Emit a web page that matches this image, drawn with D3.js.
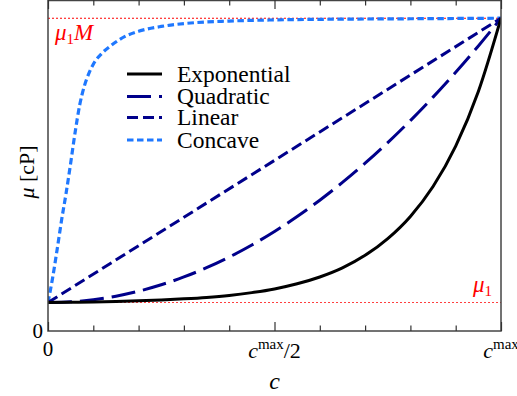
<!DOCTYPE html>
<html><head><meta charset="utf-8">
<script src="https://cdn.jsdelivr.net/npm/d3@7"></script>
<style>body{margin:0;background:#fff}svg{display:block}text{font-family:"Liberation Serif","Times New Roman",serif}</style>
</head><body><svg id="c" width="517" height="396"></svg>
<script>
// Data (mu in units of mu1, c in units of c_max)
const cGrid = [0,0.05,0.1,0.15,0.2,0.25,0.3,0.35,0.4,0.45,0.5,0.55,0.6,0.65,0.7,0.75,0.8,0.85,0.9,0.95,1];
const expVals = [1,1.01,1.02,1.035,1.06,1.09,1.13,1.18,1.25,1.35,1.48,1.66,1.9,2.22,2.66,3.25,4.03,5.08,6.5,8.42,11];
const quadVals = [1,1.025,1.1,1.225,1.4,1.625,1.9,2.225,2.6,3.025,3.5,4.025,4.6,5.225,5.9,6.625,7.4,8.225,9.1,10.025,11];
const linC = [0,1];
const linVals = [1,11];
const concC = [0,0.01,0.02,0.03,0.04,0.05,0.06,0.07,0.08,0.09,0.1,0.12,0.14,0.17,0.2,0.25,0.3,0.4,0.5,0.6,0.8,1];
const concVals = [1,1.85,2.85,3.9,4.85,5.9,7.0,7.95,8.6,9.05,9.38,9.78,10.05,10.36,10.54,10.71,10.81,10.9,10.94,10.96,10.98,11];
const mu1 = 1, mu1M = 11;
const seriesNames = ["Exponential","Quadratic","Linear","Concave"];
const xTicks = [0,0.1,0.2,0.3,0.4,0.5,0.6,0.7,0.8,0.9,1];
const xMajor = [0,0.5,1];

const svg = d3.select("#c");
const L=48,R=501,T=0,B=331;
const x = d3.scaleLinear().domain([0,1]).range([L,R]);
const y = d3.scaleLinear().domain([0,11.64]).range([B,T]);

const series = [
  {name:seriesNames[0], c:cGrid, v:expVals, color:"#000", dash:null, w:3},
  {name:seriesNames[1], c:cGrid, v:quadVals, color:"#00008b", dash:"24,8", w:3},
  {name:seriesNames[2], c:linC, v:linVals, color:"#00008b", dash:"11,5", w:3},
  {name:seriesNames[3], c:concC, v:concVals, color:"#1f78ff", dash:"6.5,3.5", w:3.2}
];

svg.append("clipPath").attr("id","clip").append("rect").attr("x",L).attr("y",T-2).attr("width",R-L).attr("height",B-T+2);

// reference lines
[mu1, mu1M].forEach((v,i)=>{
  svg.append("line").attr("x1",L).attr("x2",R).attr("y1",y(v)).attr("y2",y(v))
    .attr("stroke","red").attr("stroke-width",1.1).attr("stroke-dasharray","2,2")
    .attr("opacity", i===0?0.75:1);
});

const g = svg.append("g").attr("clip-path","url(#clip)");
const line = d3.line().x(d=>x(d[0])).y(d=>y(d[1])).curve(d3.curveMonotoneX);
series.slice().reverse().forEach(s=>{
  g.append("path").datum(s.c.map((c,i)=>[c,s.v[i]]))
   .attr("d",line).attr("fill","none").attr("stroke",s.color)
   .attr("stroke-width",s.w).attr("stroke-dasharray",s.dash);
});

// frame
svg.append("rect").attr("x",L).attr("y",T+0.5).attr("width",R-L).attr("height",B-T-0.5)
  .attr("fill","none").attr("stroke","#444").attr("stroke-width",1.5);

// ticks (inward) via axes
const bottomAx = d3.axisTop(x).tickValues(xTicks).tickSize(0).tickFormat("");
const gb = svg.append("g").attr("transform",`translate(0,${B})`).call(bottomAx);
gb.select(".domain").remove();
gb.selectAll(".tick line").attr("y2",d=>xMajor.includes(d)?-9:-5.5).attr("stroke","#333").attr("stroke-width",1.2);
const topAx = d3.axisBottom(x).tickValues(xTicks).tickSize(0).tickFormat("");
const gt = svg.append("g").attr("transform",`translate(0,${T})`).call(topAx);
gt.select(".domain").remove();
gt.selectAll(".tick line").attr("y2",d=>xMajor.includes(d)?9:5.5).attr("stroke","#333").attr("stroke-width",1.2);

// tick labels
svg.append("text").attr("x",x(0)).attr("y",356).attr("text-anchor","middle").attr("font-size",21).text("0");
const t1 = svg.append("text").attr("x",x(0.5)).attr("y",358).attr("text-anchor","middle").attr("font-size",22);
t1.append("tspan").attr("font-style","italic").text("c");
t1.append("tspan").attr("font-size",15).attr("dy",-9).text("max");
t1.append("tspan").attr("dy",9).text("/2");
const t2 = svg.append("text").attr("x",x(1)).attr("y",358).attr("text-anchor","middle").attr("font-size",22);
t2.append("tspan").attr("font-style","italic").text("c");
t2.append("tspan").attr("font-size",15).attr("dy",-9).text("max");
svg.append("text").attr("x",43).attr("y",338).attr("text-anchor","end").attr("font-size",21).text("0");

// axis labels
svg.append("text").attr("x",x(0.5)).attr("y",389).attr("text-anchor","middle").attr("font-size",24)
  .attr("font-style","italic").text("c");
const yl = svg.append("text").attr("transform","translate(34,172) rotate(-90)").attr("text-anchor","middle").attr("font-size",22);
yl.append("tspan").attr("font-style","italic").text("μ");
yl.append("tspan").text(" [cP]");

// mu labels
const m1 = svg.append("text").attr("x",55).attr("y",40).attr("fill","red").attr("font-size",23);
m1.append("tspan").attr("font-style","italic").text("μ");
m1.append("tspan").attr("font-size",15).attr("dy",4).text("1");
m1.append("tspan").attr("font-style","italic").attr("dy",-4).text("M");
const m2 = svg.append("text").attr("x",492).attr("y",292).attr("fill","red").attr("font-size",23).attr("text-anchor","end");
m2.append("tspan").attr("font-style","italic").text("μ");
m2.append("tspan").attr("font-size",15).attr("dy",4).text("1");

// legend
const ly = [74,96.5,117.5,140];
series.forEach((s,i)=>{
  svg.append("line").attr("x1",127).attr("x2",162).attr("y1",ly[i]).attr("y2",ly[i])
    .attr("stroke",s.color).attr("stroke-width",s.w).attr("stroke-dasharray",s.dash);
  svg.append("text").attr("x",177).attr("y",ly[i]+7.5).attr("font-size",23.5).text(s.name);
});
</script></body></html>
